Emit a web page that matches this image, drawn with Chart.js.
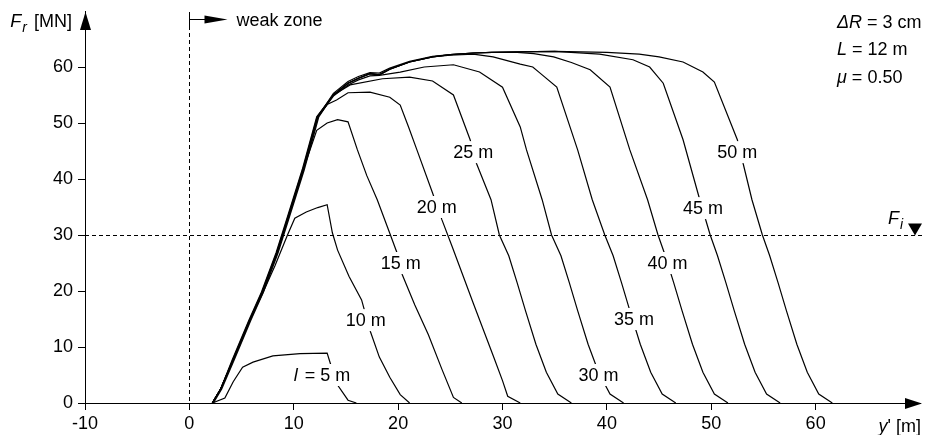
<!DOCTYPE html>
<html>
<head>
<meta charset="utf-8">
<script src="https://cdn.jsdelivr.net/npm/chart.js@4"></script>
<style>
  html, body { margin: 0; padding: 0; background: #fff; }
</style>
</head>
<body>
<canvas id="chart" width="935" height="435"></canvas>
<script>
const FONT = '"Liberation Sans", Arial, sans-serif';

// length of the sliding block l [m]
const lengths = [5, 10, 15, 20, 25, 30, 35, 40, 45, 50];

// position y' [m] and resisting force Fr [MN], one pair per curve
const y5  = [2.2, 3.4, 4.2, 5.1, 6.1, 8.0, 10.6, 13.2, 13.5, 14.2, 15.2, 16.0];
const f5  = [0, 0.9, 3.8, 6.4, 7.3, 8.4, 8.8, 8.9, 7.1, 3.2, 0.5, 0];
const y10 = [2.2, 3.0, 4.2, 5.8, 7.0, 8.2, 9.4, 10.1, 11.2, 12.3, 13.2, 13.7, 14.2, 15.3, 16.5, 17.3, 18.2, 19.2, 20.2, 21.1];
const f10 = [0, 2.5, 7.7, 14.8, 19.5, 24.5, 30.0, 33.0, 34.1, 34.9, 35.4, 30.4, 27.3, 22.6, 18.4, 13.0, 8.2, 4.6, 1.5, 0];
const y15 = [2.2, 3.0, 4.2, 5.8, 7.0, 8.4, 9.4, 10.9, 12.2, 13.2, 14.2, 15.2, 16.1, 17.0, 18.0, 19.2, 19.9, 20.4, 21.6, 22.9, 24.2, 25.3, 26.1];
const f15 = [0, 2.5, 7.7, 14.8, 19.8, 26.8, 32.7, 41.6, 48.7, 50.0, 50.6, 50.2, 45.2, 40.6, 36.3, 30.3, 26.8, 22.9, 17.5, 12.2, 6.0, 1.0, 0];
const y20 = [2.2, 3.0, 4.2, 5.8, 7.0, 8.4, 9.4, 10.9, 12.3, 13.2, 14.1, 15.2, 17.3, 19.2, 20.2, 21.0, 21.8, 23.3, 24.2, 25.2, 26.2, 27.2, 28.2, 29.2, 30.0, 30.5, 31.7];
const f20 = [0, 2.5, 7.7, 14.8, 19.8, 26.8, 32.7, 41.6, 51.1, 53.3, 54.1, 55.4, 55.5, 54.6, 53.2, 49.3, 45.2, 37.5, 32.7, 27.8, 22.8, 17.8, 12.9, 8.0, 4.0, 1.2, 0];
const y25 = [2.2, 3.0, 4.1, 5.7, 6.9, 8.3, 9.3, 10.8, 12.2, 13.8, 15.4, 18.5, 21.1, 23.3, 25.3, 26.9, 27.5, 28.9, 29.7, 30.6, 31.4, 32.2, 33.2, 34.2, 35.3, 36.6];
const f25 = [0, 2.5, 7.7, 14.8, 19.8, 26.8, 32.7, 41.6, 51.1, 55.0, 56.8, 57.9, 58.2, 57.5, 55.0, 47.0, 42.8, 36.3, 30.0, 26.3, 21.5, 16.5, 10.5, 5.5, 1.6, 0];
const y30 = [2.2, 3.0, 4.2, 5.8, 7.0, 8.4, 9.4, 10.9, 12.3, 13.8, 15.2, 16.2, 17.3, 18.2, 20.2, 22.5, 25.3, 27.8, 30.0, 31.7, 32.3, 33.8, 34.7, 35.6, 36.4, 37.2, 38.2, 39.2, 40.3, 41.6];
const f30 = [0, 2.5, 7.7, 14.8, 19.8, 26.8, 32.7, 41.6, 51.1, 54.8, 56.8, 57.7, 58.4, 58.5, 59.1, 60.0, 60.4, 59.1, 56.4, 49.3, 45.2, 36.3, 30.0, 26.3, 21.5, 16.5, 10.5, 5.5, 1.6, 0];
const y35 = [2.3, 3.1, 4.3, 5.9, 7.1, 8.5, 9.5, 11.0, 12.4, 13.8, 15.2, 16.2, 17.3, 18.2, 19.2, 21.1, 23.3, 25.0, 27.2, 29.1, 31.7, 32.9, 33.6, 35.2, 37.2, 38.6, 39.8, 40.6, 41.4, 42.2, 43.2, 44.2, 45.3, 46.6];
const f35 = [0, 2.5, 7.7, 14.8, 19.8, 26.8, 32.7, 41.6, 51.1, 55.0, 57.1, 58.0, 58.8, 58.6, 59.6, 60.9, 61.8, 62.1, 62.3, 61.8, 60.5, 60.0, 58.9, 56.4, 45.2, 36.3, 30.0, 26.3, 21.5, 16.5, 10.5, 5.5, 1.6, 0];
const y40 = [2.2, 3.0, 4.2, 5.8, 7.0, 8.4, 9.4, 10.9, 12.3, 13.8, 15.2, 16.2, 17.3, 18.2, 19.2, 21.1, 23.3, 25.0, 27.2, 29.0, 31.4, 33.0, 34.9, 36.6, 38.4, 40.3, 42.2, 43.9, 44.9, 45.6, 46.4, 47.2, 48.2, 49.2, 50.3, 51.6];
const f40 = [0, 2.5, 7.7, 14.8, 19.8, 26.8, 32.7, 41.6, 51.1, 55.3, 57.4, 58.3, 59.0, 58.9, 59.8, 61.0, 61.9, 62.2, 62.5, 62.6, 62.6, 62.4, 61.8, 60.8, 59.5, 56.4, 45.2, 36.3, 30.0, 26.3, 21.5, 16.5, 10.5, 5.5, 1.6, 0];
const y45 = [2.2, 3.0, 4.15, 5.75, 6.95, 8.35, 9.35, 10.85, 12.25, 13.8, 15.2, 16.2, 17.3, 18.2, 19.2, 21.1, 23.3, 25.0, 27.2, 29.0, 31.4, 35.0, 39.3, 42.5, 44.1, 45.4, 47.3, 48.9, 49.9, 50.6, 51.4, 52.2, 53.2, 54.2, 55.3, 56.6];
const f45 = [0, 2.5, 7.7, 14.8, 19.8, 26.8, 32.7, 41.6, 51.1, 55.0, 57.1, 58.0, 58.8, 58.6, 59.6, 60.9, 61.8, 62.2, 62.5, 62.6, 62.7, 62.8, 62.3, 61.3, 60.0, 57.1, 47.0, 36.3, 30.0, 26.3, 21.5, 16.5, 10.5, 5.5, 1.6, 0];
const y50 = [2.2, 3.0, 4.2, 5.8, 7.0, 8.4, 9.4, 10.9, 12.3, 13.8, 15.2, 16.2, 17.3, 18.2, 19.2, 21.1, 23.3, 25.0, 27.2, 29.0, 31.4, 35.0, 40.0, 43.1, 45.0, 47.3, 49.2, 50.3, 52.5, 53.9, 54.9, 55.6, 56.4, 57.2, 58.2, 59.2, 60.3, 61.6];
const f50 = [0, 2.5, 7.7, 14.8, 19.8, 26.8, 32.7, 41.6, 51.1, 55.0, 57.1, 58.0, 58.8, 58.6, 59.6, 60.9, 61.8, 62.2, 62.5, 62.6, 62.7, 62.8, 62.6, 62.3, 61.8, 60.9, 59.1, 57.3, 47.0, 36.3, 30.0, 26.3, 21.5, 16.5, 10.5, 5.5, 1.6, 0];

const curvesY = [y5, y10, y15, y20, y25, y30, y35, y40, y45, y50];
const curvesF = [f5, f10, f15, f20, f25, f30, f35, f40, f45, f50];

// tick labels
const xTickLabels = [-10, 0, 10, 20, 30, 40, 50, 60];
const yTickLabels = [0, 10, 20, 30, 40, 50, 60];

const Fi = 30;            // F_i level [MN]
const weakZoneStart = 0;  // y' where the weak zone begins

// where each curve's label sits (y' [m], Fr [MN])
const labelAtY = [12.7, 16.9, 20.25, 23.7, 27.2, 39.2, 42.6, 45.8, 49.2, 52.5];
const labelAtF = [5, 14.8, 25, 35, 44.8, 5, 15, 25, 34.8, 44.8];

function fontOf(style, size) {
    return (style.includes('i') ? 'italic ' : '') + size + 'px ' + FONT;
}

// parts: [text, style, extra gap]; style '' normal, 'i' italic, 'is' italic subscript
function richText(ctx, parts, x, y, align) {
    let w = 0;
    parts.forEach(p => {
        ctx.font = fontOf(p[1], p[1] === 'is' ? 14 : 18);
        w += ctx.measureText(p[0]).width + (p[2] || 0);
    });
    let cx = align === 'right' ? x - w : align === 'center' ? x - w / 2 : x;
    parts.forEach(p => {
        ctx.font = fontOf(p[1], p[1] === 'is' ? 14 : 18);
        ctx.fillText(p[0], cx, y + (p[1] === 'is' ? 5 : 0));
        cx += ctx.measureText(p[0]).width + (p[2] || 0);
    });
    return w;
}

const decorations = {
    id: 'decorations',
    beforeDatasetsDraw(chart) {
        const { ctx, chartArea: a, scales: { x, y } } = chart;
        ctx.save();
        ctx.strokeStyle = '#000';
        ctx.lineWidth = 1;
        ctx.setLineDash([4, 3]);
        const x0 = Math.round(x.getPixelForValue(weakZoneStart)) + 0.5;
        ctx.beginPath(); ctx.moveTo(x0, a.top + 15); ctx.lineTo(x0, a.bottom); ctx.stroke();
        const yi = Math.round(y.getPixelForValue(Fi)) + 0.5;
        ctx.beginPath(); ctx.moveTo(a.left, yi); ctx.lineTo(a.right + 2, yi); ctx.stroke();
        ctx.restore();
    },
    afterDatasetsDraw(chart) {
        const { ctx, chartArea: a, scales: { x, y } } = chart;
        ctx.save();
        ctx.fillStyle = '#000';
        ctx.strokeStyle = '#000';
        ctx.lineWidth = 1;
        ctx.textBaseline = 'middle';

        // curve labels, with a white box that breaks the line
        lengths.forEach((l, i) => {
            const px = x.getPixelForValue(labelAtY[i]);
            const py = y.getPixelForValue(labelAtF[i]);
            const parts = i === 0 ? [['l', 'i', 2], [' = ' + l + ' m', '']] : [[l + ' m', '']];
            let w = 0;
            parts.forEach(p => { ctx.font = fontOf(p[1], 18); w += ctx.measureText(p[0]).width + (p[2] || 0); });
            ctx.fillStyle = '#fff';
            ctx.fillRect(px - w / 2 - 2, py - 11, w + 4, 22);
            ctx.fillStyle = '#000';
            richText(ctx, parts, px, py + 1, 'center');
        });

        ctx.textBaseline = 'alphabetic';
        // axis arrows
        ctx.beginPath();
        ctx.moveTo(a.left + 0.5, a.top + 1); ctx.lineTo(a.left - 5, a.top + 19); ctx.lineTo(a.left + 6, a.top + 19);
        ctx.closePath(); ctx.fill();
        ctx.beginPath();
        ctx.moveTo(a.right + 2, a.bottom + 0.5); ctx.lineTo(a.right - 15, a.bottom - 5); ctx.lineTo(a.right - 15, a.bottom + 6);
        ctx.closePath(); ctx.fill();

        // weak zone marker
        const x0 = Math.round(x.getPixelForValue(weakZoneStart)) + 0.5;
        ctx.beginPath(); ctx.moveTo(x0, a.top + 1); ctx.lineTo(x0, a.top + 15); ctx.stroke();
        ctx.beginPath(); ctx.moveTo(x0, a.top + 8.5); ctx.lineTo(x0 + 18, a.top + 8.5); ctx.stroke();
        ctx.beginPath();
        ctx.moveTo(x0 + 38, a.top + 8.5); ctx.lineTo(x0 + 15, a.top + 4.5); ctx.lineTo(x0 + 15, a.top + 12.5);
        ctx.closePath(); ctx.fill();
        richText(ctx, [['weak zone', '']], x0 + 47, a.top + 15, 'left');

        // F_i marker
        const yi = Math.round(y.getPixelForValue(Fi)) + 0.5;
        ctx.beginPath();
        ctx.moveTo(a.right - 5, yi); ctx.lineTo(a.right - 12, yi - 12); ctx.lineTo(a.right + 2, yi - 12);
        ctx.closePath(); ctx.fill();
        richText(ctx, [['F', 'i', 1], ['i', 'is']], a.right - 32, yi - 12, 'left');

        // axis titles
        richText(ctx, [['F', 'i', 1], ['r', 'is', 2], [' [MN]', '']], 72, 27, 'right');
        richText(ctx, [['y', 'i'], ["' [m]", '']], 921, 432, 'right');

        // parameters
        richText(ctx, [['\u0394R', 'i'], [' = 3 cm', '']], 837, 28, 'left');
        richText(ctx, [['L', 'i'], [' = 12 m', '']], 837, 55, 'left');
        richText(ctx, [['\u03bc', 'i'], [' = 0.50', '']], 837, 83, 'left');
        ctx.restore();
    }
};

const datasets = lengths.map((l, i) => ({
    label: 'l = ' + l + ' m',
    data: curvesY[i].map((v, j) => ({ x: v, y: curvesF[i][j] })),
    borderColor: '#000',
    borderWidth: 1.2,
    pointRadius: 0,
    showLine: true,
    tension: 0,
    fill: false
}));

const tickColor = c => (c.tick && c.tick.value === 70) ? 'rgba(0,0,0,0)' : '#000';

new Chart(document.getElementById('chart').getContext('2d'), {
    type: 'scatter',
    data: { datasets: datasets },
    plugins: [decorations],
    options: {
        responsive: false,
        animation: false,
        devicePixelRatio: 1,
        layout: { padding: { top: 11, right: 15, left: 0, bottom: 0 } },
        plugins: { legend: { display: false }, tooltip: { enabled: false } },
        scales: {
            x: {
                type: 'linear',
                min: -10,
                max: 70,
                afterFit: s => { s.height = 32; s.paddingRight = 0; },
                ticks: {
                    stepSize: 10,
                    color: '#000',
                    padding: 3,
                    font: { size: 18, family: FONT },
                    callback: v => xTickLabels.includes(v) ? String(v) : ''
                },
                grid: { drawOnChartArea: false, tickLength: 7, tickColor: tickColor, tickWidth: 1 },
                border: { display: true, color: '#000', width: 1 }
            },
            y: {
                type: 'linear',
                min: 0,
                max: 70,
                afterFit: s => { s.width = 85; s.paddingTop = 0; s.paddingBottom = 0; },
                ticks: {
                    stepSize: 10,
                    color: '#000',
                    padding: 5,
                    font: { size: 18, family: FONT },
                    callback: v => yTickLabels.includes(v) ? String(v) : ''
                },
                grid: { drawOnChartArea: false, tickLength: 7, tickColor: tickColor, tickWidth: 1 },
                border: { display: true, color: '#000', width: 1 }
            }
        }
    }
});
</script>
</body>
</html>
